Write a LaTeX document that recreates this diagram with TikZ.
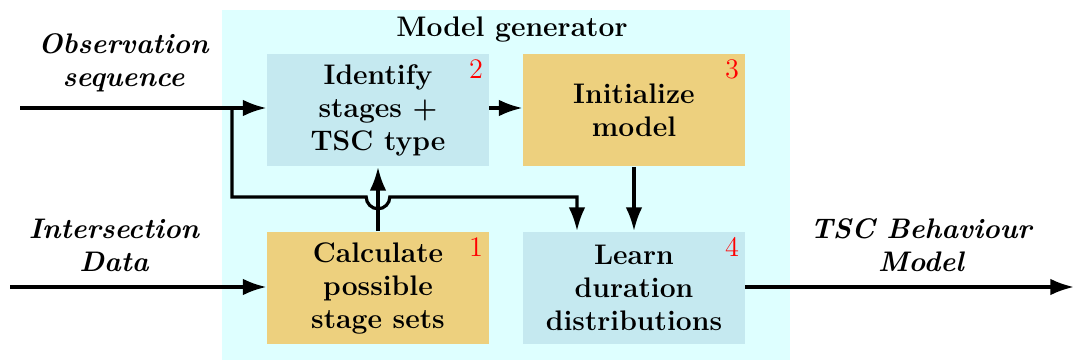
\documentclass[tikz,border=0pt]{standalone}
\usetikzlibrary{arrows.meta}
\definecolor{gencyan}{HTML}{DEFFFF}
\definecolor{stepblue}{HTML}{C5E9F0}
\definecolor{stepgold}{HTML}{EDD07E}
\begin{document}
\begin{tikzpicture}[x=0.424pt,y=-0.424pt,
  stepbox/.style={minimum width=94.1pt,minimum height=47.9pt,inner sep=0pt,
                  align=center,font=\large\bfseries},
  bluebox/.style={stepbox,fill=stepblue},
  goldbox/.style={stepbox,fill=stepgold},
  stepno/.style={anchor=north east,inner sep=2.5pt,text=red,font=\large},
  flow/.style={line width=1.35pt,-{Latex[length=10pt,width=7pt]}},
  iolabel/.style={align=center,font=\large\bfseries\itshape}]
\useasboundingbox (0,0) rectangle (1076,361);

% model generator frame
\fill[gencyan] (222,10) rectangle (790,360);
\node[font=\large\bfseries] (title) at (512,30) {Model generator};

% processing steps
\node[bluebox] (identify) at (378,110) {Identify\\stages +\\TSC type};
\node[goldbox] (init)     at (634,110) {Initialize\\model};
\node[goldbox] (calc)     at (378,288) {Calculate\\possible\\stage sets};
\node[bluebox] (learn)    at (634,288) {Learn\\duration\\distributions};

\node[stepno] (n2) at (identify.north east) {2};
\node[stepno] (n3) at (init.north east) {3};
\node[stepno] (n1) at (calc.north east) {1};
\node[stepno] (n4) at (learn.north east) {4};

% inputs and output
\node[iolabel] (obslbl) at (123.5,63)  {Observation\\sequence};
\node[iolabel] (intlbl) at (114,245)   {Intersection\\Data};
\node[iolabel] (outlbl) at (921,245)   {TSC Behaviour\\Model};

\coordinate (obsin)  at (20,108);
\coordinate (branch) at (232,108);
\coordinate (intin)  at (10,287);
\coordinate (out)    at (1074,287);
\coordinate (hop)    at (378,197);
\coordinate (drop)   at (577,197);

\draw[flow] (obsin) -- (obsin -| identify.west);
\draw[flow] (identify.east |- obsin) -- (init.west |- obsin);
\draw[flow] (intin) -- (intin -| calc.west);
\draw[flow] (calc.north) -- (identify.south);
\draw[flow] (init.south) -- (learn.north);
\draw[flow] (learn.east |- out) -- (out);

% observation branch hopping over the vertical connector
\draw[flow] (branch) |- ([xshift=-5pt]hop)
  arc[start angle=180,end angle=360,radius=5pt] -- (drop) -- (drop |- learn.north);
\end{tikzpicture}
\end{document}
